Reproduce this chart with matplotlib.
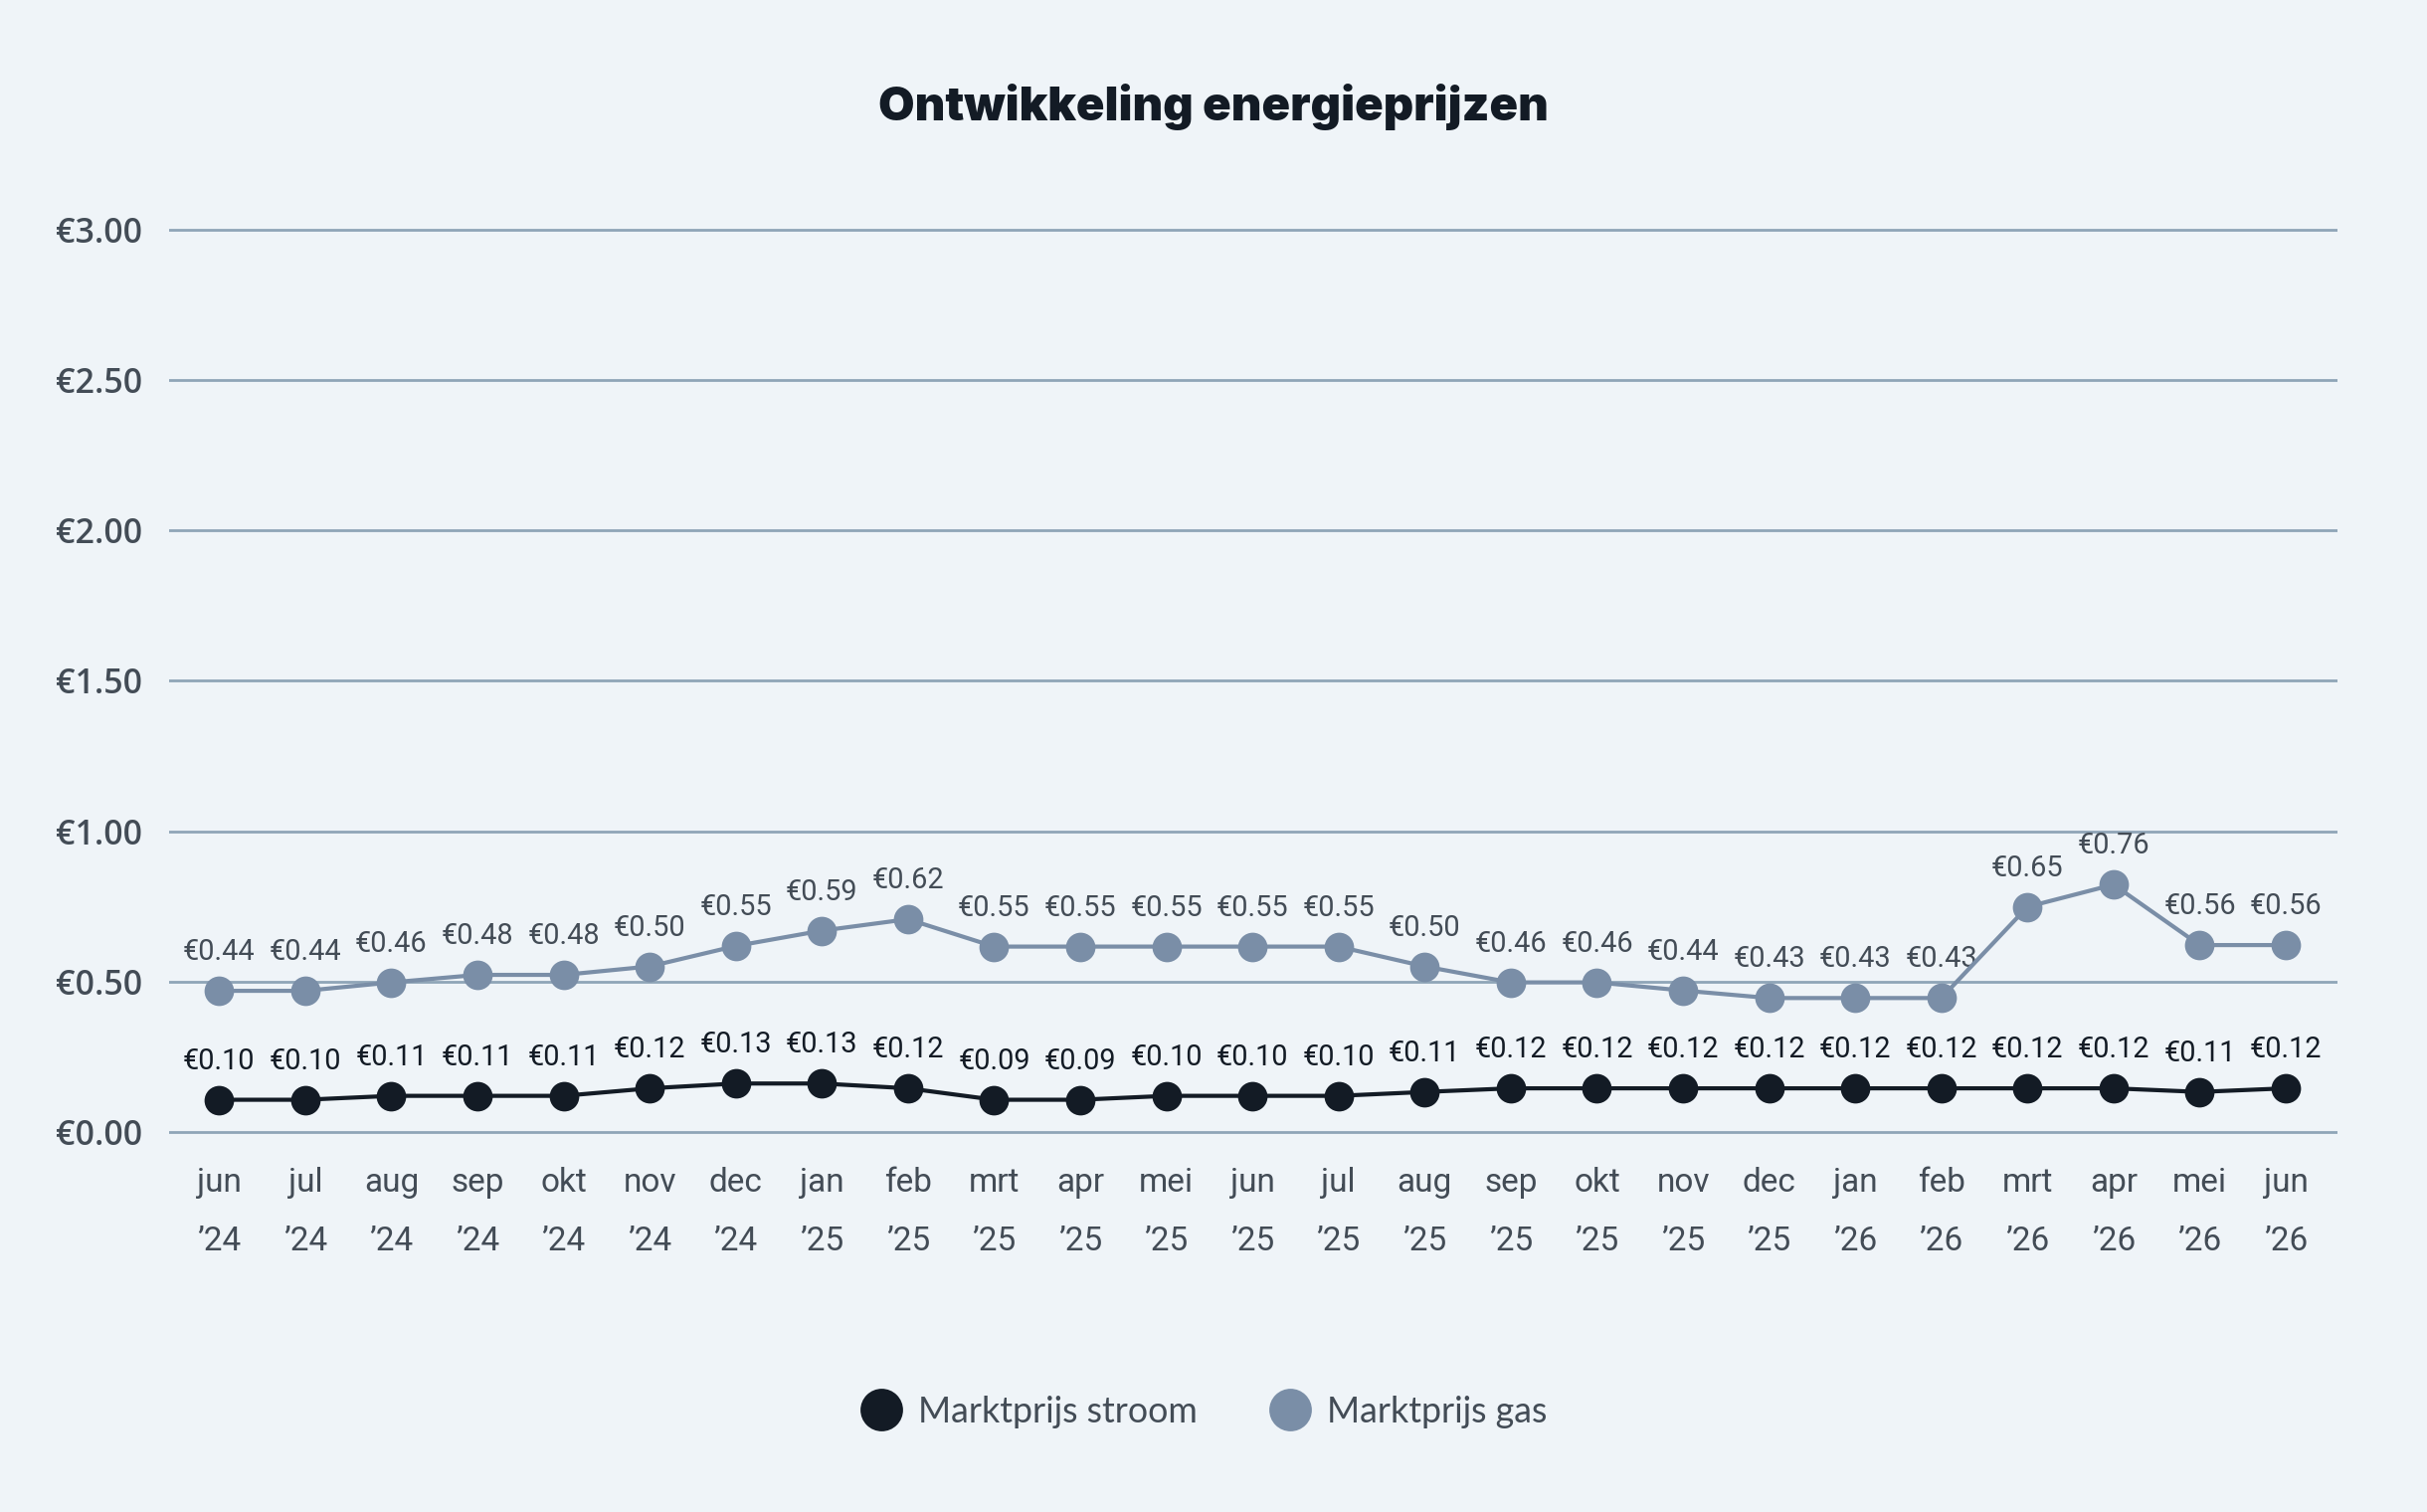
import matplotlib
matplotlib.use('Agg')
import matplotlib.pyplot as plt
from matplotlib.lines import Line2D

# ---- data ----
months = ['jun', 'jul', 'aug', 'sep', 'okt', 'nov', 'dec', 'jan', 'feb', 'mrt', 'apr', 'mei',
          'jun', 'jul', 'aug', 'sep', 'okt', 'nov', 'dec', 'jan', 'feb', 'mrt', 'apr', 'mei', 'jun']
years = ['’24'] * 7 + ['’25'] * 12 + ['’26'] * 6

stroom_values = [0.108, 0.108, 0.121, 0.121, 0.121, 0.146, 0.162, 0.162, 0.146, 0.108, 0.108, 0.121,
                 0.121, 0.121, 0.134, 0.146, 0.146, 0.146, 0.146, 0.146, 0.146, 0.146, 0.146, 0.134, 0.146]
stroom_labels = ['€0.10', '€0.10', '€0.11', '€0.11', '€0.11', '€0.12', '€0.13', '€0.13', '€0.12', '€0.09',
                 '€0.09', '€0.10', '€0.10', '€0.10', '€0.11', '€0.12', '€0.12', '€0.12', '€0.12', '€0.12',
                 '€0.12', '€0.12', '€0.12', '€0.11', '€0.12']

gas_values = [0.470, 0.470, 0.498, 0.523, 0.523, 0.551, 0.619, 0.670, 0.708, 0.617, 0.617, 0.617,
              0.617, 0.617, 0.551, 0.498, 0.498, 0.471, 0.446, 0.446, 0.446, 0.749, 0.823, 0.622, 0.622]
gas_labels = ['€0.44', '€0.44', '€0.46', '€0.48', '€0.48', '€0.50', '€0.55', '€0.59', '€0.62', '€0.55',
              '€0.55', '€0.55', '€0.55', '€0.55', '€0.50', '€0.46', '€0.46', '€0.44', '€0.43', '€0.43',
              '€0.43', '€0.65', '€0.76', '€0.56', '€0.56']

y_ticks = [0.0, 0.5, 1.0, 1.5, 2.0, 2.5, 3.0]
y_tick_labels = ['€0.00', '€0.50', '€1.00', '€1.50', '€2.00', '€2.50', '€3.00']

series_names = ['Marktprijs stroom', 'Marktprijs gas']
title = 'Ontwikkeling energieprijzen'

# ---- style ----
BG = '#EFF4F8'
GRID = '#8FA5B7'
STROOM = '#131B25'
GAS = '#7A8EA7'
TXT = '#434C56'

fig = plt.figure(figsize=(12.2, 7.6), dpi=200, facecolor=BG)
ax = fig.add_axes([0.0697, 0.2412, 0.8934, 0.6170])
ax.set_facecolor(BG)

x = list(range(len(months)))
ax.set_xlim(-0.58, len(months) - 1 + 0.6)
ax.set_ylim(-0.05, 3.05)

for s in ax.spines.values():
    s.set_visible(False)

ax.set_yticks(y_ticks)
ax.set_yticklabels(y_tick_labels, family=['Open Sans', 'DejaVu Sans'], fontweight='semibold',
                   fontsize=12.2, color=TXT)
for lab in ax.get_yticklabels():
    lab.set_horizontalalignment('left')
ax.tick_params(axis='y', length=0, pad=41)
ax.grid(axis='y', color=GRID, linewidth=1.0, zorder=0)
ax.set_axisbelow(True)

ax.set_xticks(x)
ax.set_xticklabels([f'{m}\n{y}' for m, y in zip(months, years)],
                   family=['Roboto', 'DejaVu Sans'], fontsize=12, color=TXT, linespacing=2.1)
ax.tick_params(axis='x', length=0, pad=7)

ax.plot(x, gas_values, color=GAS, linewidth=1.5, marker='o', markersize=9.7, zorder=3, clip_on=False)
ax.plot(x, stroom_values, color=STROOM, linewidth=1.5, marker='o', markersize=9.7, zorder=4, clip_on=False)

for xi, v, lab in zip(x, gas_values, gas_labels):
    ax.annotate(lab, (xi, v), xytext=(0, 14), textcoords='offset points', ha='center', va='center',
                family=['Roboto', 'DejaVu Sans'], fontsize=10.4, color=TXT, zorder=2)
for xi, v, lab in zip(x, stroom_values, stroom_labels):
    ax.annotate(lab, (xi, v), xytext=(0, 14), textcoords='offset points', ha='center', va='center',
                family=['Roboto', 'DejaVu Sans'], fontsize=10.4, color=STROOM, zorder=2)

fig.text(0.5, 0.929, title, ha='center', va='center', family=['Inter', 'DejaVu Sans'],
         fontweight='black', fontsize=17, color=STROOM)

handles = [Line2D([], [], linestyle='none', marker='o', markersize=14.4, color=STROOM),
           Line2D([], [], linestyle='none', marker='o', markersize=14.4, color=GAS)]
leg = fig.legend(handles, series_names, loc='center', bbox_to_anchor=(0.4965, 0.0664), ncol=2,
                 frameon=False, handletextpad=0.53, columnspacing=2.1, handlelength=1.0,
                 prop={'family': ['Lato', 'DejaVu Sans'], 'size': 12.9})
for t in leg.get_texts():
    t.set_color(TXT)

fig.savefig('out.png', dpi=200, facecolor=BG)
